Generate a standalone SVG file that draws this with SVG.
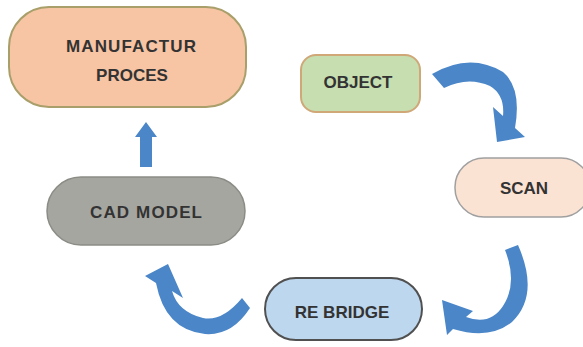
<svg xmlns="http://www.w3.org/2000/svg" width="583" height="347" viewBox="0 0 583 347">
  <style>
    .lbl { font-family: "Liberation Sans", Arial, sans-serif; font-size: 17px; font-weight: bold; fill: #333333; text-anchor: middle; }
    .arrow { fill: #4a86c8; }
  </style>
  <rect width="583" height="347" fill="#ffffff"/>

  <g id="manufactur">
    <rect x="9" y="7" width="237" height="100" rx="40" fill="#f7c4a4" stroke="#a89f6a" stroke-width="2"/>
    <text class="lbl" x="131" y="52" textLength="130" lengthAdjust="spacing">MANUFACTUR</text>
    <text class="lbl" x="132" y="81">PROCES</text>
  </g>

  <g id="object">
    <rect x="301" y="55" width="119" height="57" rx="15" fill="#c6deb0" stroke="#d0a878" stroke-width="2"/>
    <text class="lbl" x="358" y="88">OBJECT</text>
  </g>

  <g id="scan">
    <rect x="455" y="158" width="135" height="59" rx="29" fill="#fbe3d4" stroke="#a0a0a0" stroke-width="1.5"/>
    <text class="lbl" x="524" y="194">SCAN</text>
  </g>

  <g id="cad-model">
    <rect x="47" y="177" width="198" height="68" rx="34" fill="#a6a6a0" stroke="#8c8c86" stroke-width="1.5"/>
    <text class="lbl" x="146" y="218" textLength="112" lengthAdjust="spacing">CAD MODEL</text>
  </g>

  <g id="re-bridge">
    <rect x="265" y="278" width="157" height="62" rx="31" fill="#bdd7ee" stroke="#505050" stroke-width="2"/>
    <text class="lbl" x="342" y="318">RE BRIDGE</text>
  </g>

  <g id="connectors">
    <!-- object to scan -->
    <path class="arrow" d="M432 74 Q470 52 503 72 Q522 88 515 128 L525 137 L497 142 L493 107 L503 116 Q505 95 490 86 Q468 76 444 88 Z"/>
    <!-- scan to re bridge -->
    <path class="arrow" d="M505 250 L518 245 Q540 295 512 322 Q490 340 453 329 L447 335 L442 300 L473 311 L466 317 Q490 326 503 306 Q518 283 505 250 Z"/>
    <!-- re bridge to cad model -->
    <path class="arrow" d="M242 298 Q222 322 203 318 Q178 312 172 291 L183 298 L168 264 L145 276 L156 283 Q165 330 205 334 Q232 336 250 308 Z"/>
    <!-- cad model up to manufactur -->
    <path class="arrow" d="M140 167 L140 137 L135 137 L146 122 L157 137 L152 137 L152 167 Z"/>
  </g>
</svg>
